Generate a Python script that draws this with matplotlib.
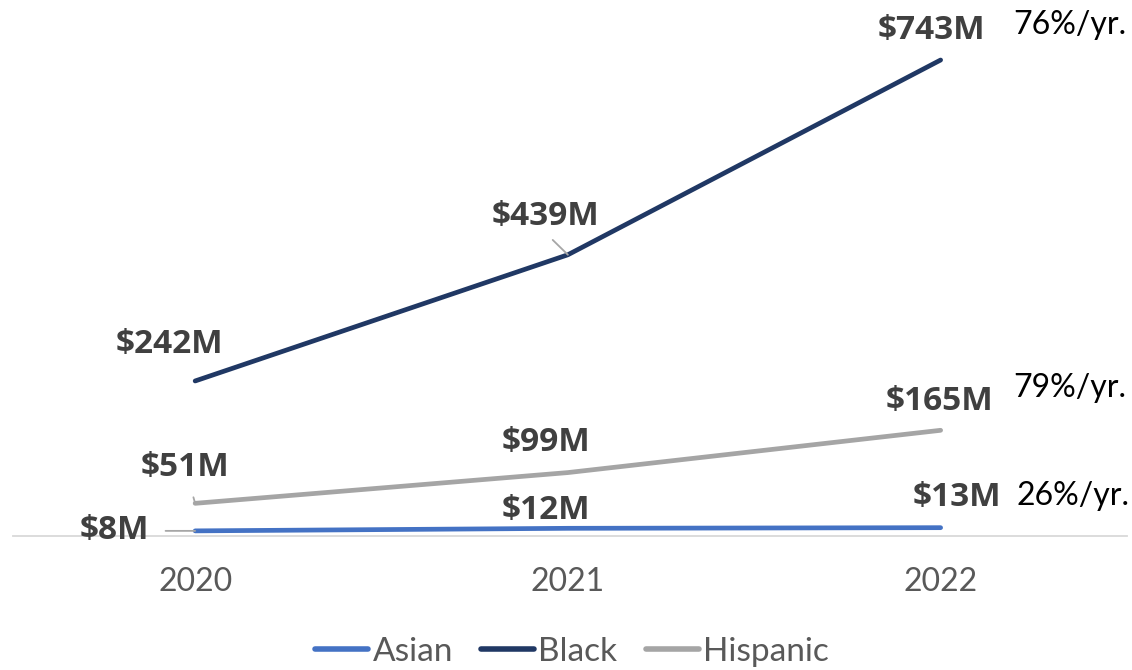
import matplotlib
matplotlib.use("Agg")
import matplotlib.pyplot as plt

years = ["2020", "2021", "2022"]
asian = [8, 12, 13]
black = [242, 439, 743]
hispanic = [51, 99, 165]
growth = {"Black": "76%/yr.", "Hispanic": "79%/yr.", "Asian": "26%/yr."}

colors = {"Asian": "#4472C4", "Black": "#203864", "Hispanic": "#A5A5A5"}

plt.rcParams["font.family"] = ["Lato", "DejaVu Sans"]

W, H, DPI = 1132, 670, 100
fig = plt.figure(figsize=(W / DPI, H / DPI), dpi=DPI)
ax = fig.add_axes([12.5 / W, 134 / H, (1127 - 12.5) / W, (536 - 23.5) / H])

x = list(range(len(years)))
series = [("Asian", asian), ("Black", black), ("Hispanic", hispanic)]
for name, vals in series:
    ax.plot(x, vals, color=colors[name], lw=3.4, solid_capstyle="round", label=name, zorder=3)

ax.set_xlim(-0.49, 2.5)
ax.set_ylim(0, 800)
ax.set_yticks([])
ax.set_xticks(x)
ax.set_xticklabels(years, fontsize=23, color="#595959")
ax.tick_params(axis="x", length=0, pad=22)
for s in ["top", "right", "left"]:
    ax.spines[s].set_visible(False)
ax.spines["bottom"].set_color("#D9D9D9")
ax.spines["bottom"].set_linewidth(1.3)


def pt(v):
    return v * 72 / DPI


label_kw = dict(fontsize=24, fontweight="bold", family=["Open Sans", "DejaVu Sans"],
                color="#404040", ha="center", va="center",
                textcoords="offset points", zorder=5)
leader = dict(arrowstyle="-", color="#A6A6A6", lw=1.3, shrinkB=0)

# value labels: (series values, index, dx px, dy px, leader)
placements = [
    (black, 0, -26, 36, None),
    (black, 1, -22, 38, dict(relpos=(0.5, 0.0), shrinkA=4)),
    (black, 2, -9, 30, None),
    (hispanic, 0, -10, 36, dict(relpos=(0.55, 0.0), shrinkA=8)),
    (hispanic, 1, -22, 30, None),
    (hispanic, 2, -1, 29, None),
    (asian, 0, -81, 0, dict(relpos=(1.0, 0.5), shrinkA=10)),
    (asian, 1, -22, 18, None),
    (asian, 2, 16, 30, None),
]
for vals, i, dx, dy, ld in placements:
    kw = dict(label_kw)
    if ld is not None:
        kw["arrowprops"] = dict(leader, **ld)
    ax.annotate(f"${vals[i]}M", xy=(i, vals[i]), xytext=(pt(dx), pt(dy)), **kw)

# growth annotations beside the last point
growth_pos = [("Black", black, 129, 35), ("Hispanic", hispanic, 129, 42), ("Asian", asian, 132, 32)]
for name, vals, dx, dy in growth_pos:
    ax.annotate(growth[name], xy=(2, vals[2]), xytext=(pt(dx), pt(dy)), textcoords="offset points",
                fontsize=23, color="#000000", ha="center", va="center", zorder=5)

leg = fig.legend(loc="center", bbox_to_anchor=(572 / W, 1 - 652 / H), ncol=3, frameon=False,
                 fontsize=24, handlelength=1.6, handletextpad=0.12, columnspacing=0.85)
for t in leg.get_texts():
    t.set_color("#595959")
for h in leg.get_lines():
    h.set_linewidth(4)

fig.savefig("out.png", dpi=DPI)
